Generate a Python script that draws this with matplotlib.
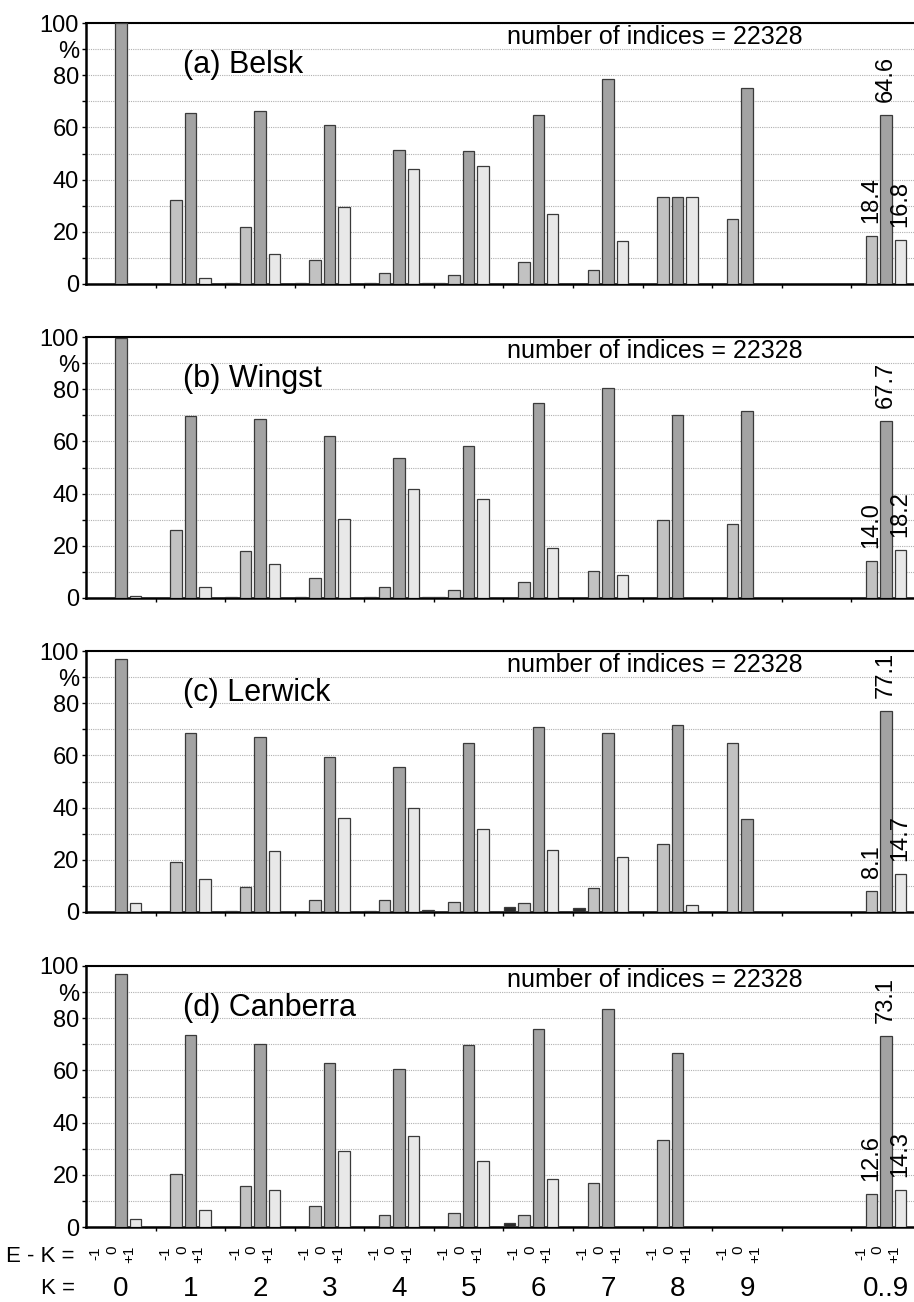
import numpy as np
import matplotlib
matplotlib.use("Agg")
import matplotlib.pyplot as plt
from matplotlib import font_manager as fm
from matplotlib import transforms

names = {f.name for f in fm.fontManager.ttflist}
MAIN = "Liberation Sans" if "Liberation Sans" in names else "DejaVu Sans"
NARROW = "Liberation Sans Narrow" if "Liberation Sans Narrow" in names else MAIN
plt.rcParams["font.family"] = [MAIN, "DejaVu Sans"]

# ---------------- data ----------------
k_labels = ["0", "1", "2", "3", "4", "5", "6", "7", "8", "9", "0..9"]
ek_labels = ["-1", "0", "+1"]
stations = ["(a) Belsk", "(b) Wingst", "(c) Lerwick", "(d) Canberra"]
n_indices = 22328

belsk_m2 = [0, 0, 0.2, 0.2, 0.2, 0.4, 0, 0, 0, 0, 0]
belsk_m1 = [0, 32.0, 21.9, 9.2, 4.1, 3.5, 8.6, 5.4, 33.3, 25.0, 18.4]
belsk_z = [100, 65.6, 66.3, 60.9, 51.3, 50.9, 64.7, 78.6, 33.3, 75.1, 64.6]
belsk_p1 = [0, 2.2, 11.5, 29.6, 44.0, 45.3, 26.7, 16.3, 33.3, 0, 16.8]
belsk_p2 = [0, 0, 0, 0, 0.4, 0, 0, 0, 0, 0, 0]

wingst_m2 = [0, 0, 0.2, 0.2, 0.2, 0.2, 0, 0, 0, 0, 0]
wingst_m1 = [0, 26.0, 17.9, 7.5, 4.1, 3.1, 6.2, 10.5, 29.9, 28.5, 14.0]
wingst_z = [99.6, 69.9, 68.6, 62.2, 53.7, 58.4, 74.7, 80.6, 70.2, 71.7, 67.7]
wingst_p1 = [0.6, 4.2, 13.2, 30.1, 41.8, 38.0, 19.0, 8.7, 0, 0, 18.2]
wingst_p2 = [0, 0, 0, 0, 0.2, 0, 0, 0, 0, 0, 0]

lerwick_m2 = [0, 0, 0.3, 0, 0.3, 0, 2.0, 1.4, 0, 0, 0]
lerwick_m1 = [0, 19.3, 9.6, 4.7, 4.5, 3.8, 3.5, 9.2, 25.9, 64.8, 8.1]
lerwick_z = [96.8, 68.5, 67.2, 59.5, 55.6, 64.7, 70.9, 68.6, 71.6, 35.5, 77.1]
lerwick_p1 = [3.3, 12.5, 23.3, 35.9, 39.7, 31.8, 23.9, 21.1, 2.8, 0, 14.7]
lerwick_p2 = [0, 0, 0, 0, 0.6, 0, 0, 0, 0, 0, 0]

canberra_m2 = [0, 0, 0, 0, 0, 0, 1.7, 0, 0, 0, 0]
canberra_m1 = [0, 20.2, 15.8, 8.2, 4.6, 5.5, 4.7, 16.9, 33.5, 0, 12.6]
canberra_z = [97.1, 73.6, 70.0, 63.0, 60.7, 69.6, 75.7, 83.4, 66.8, 0, 73.1]
canberra_p1 = [3.1, 6.6, 14.3, 29.1, 35.0, 25.3, 18.3, 0, 0, 0, 14.3]
canberra_p2 = [0, 0, 0, 0, 0, 0, 0, 0, 0, 0, 0]

panels = [
    (belsk_m2, belsk_m1, belsk_z, belsk_p1, belsk_p2),
    (wingst_m2, wingst_m1, wingst_z, wingst_p1, wingst_p2),
    (lerwick_m2, lerwick_m1, lerwick_z, lerwick_p1, lerwick_p2),
    (canberra_m2, canberra_m1, canberra_z, canberra_p1, canberra_p2),
]

# ---------------- layout ----------------
W, H = 914, 1302
fig = plt.figure(figsize=(W / 100, H / 100), dpi=100)
group_pos = np.array([0, 1, 2, 3, 4, 5, 6, 7, 8, 9, 11], dtype=float)
offsets = [-0.416, -0.208, 0.0, 0.208, 0.416]
colors = ["#2b2b2b", "#c2c2c2", "#a3a3a3", "#e8e8e8", "#2b2b2b"]
bw = 0.165
tops = [23, 337, 651, 966]
ph = 261
left = 86

axes = []
for i, (top, series) in enumerate(zip(tops, panels)):
    ax = fig.add_axes([left / W, 1 - (top + ph) / H, 1 - left / W, ph / H])
    axes.append(ax)
    for off, col, vals in zip(offsets, colors, series):
        ax.bar(group_pos + off, vals, width=bw, color=col,
               edgecolor="#3a3a3a", linewidth=0.9, zorder=3)
    ax.set_xlim(-0.5, 11.4)
    ax.set_ylim(0, 100)
    ax.set_axisbelow(True)
    ax.yaxis.grid(True, linestyle=(0, (1, 1)), color="#b0b0b0", linewidth=0.8)
    yt = list(range(0, 101, 10))
    ylab = [("%" if v == 90 else (str(v) if v % 20 == 0 else "")) for v in yt]
    ax.set_yticks(yt)
    ax.set_yticklabels(ylab, fontsize=17)
    ax.set_xticks(np.arange(0.5, 11, 1.0))
    ax.set_xticklabels([])
    ax.tick_params(axis="x", direction="out", length=3, width=1)
    ax.tick_params(axis="y", direction="out", length=3, width=1, pad=2)
    for s in ["left", "bottom"]:
        ax.spines[s].set_linewidth(1.8)
    ax.spines["top"].set_linewidth(1.5)
    ax.spines["right"].set_visible(False)
    ax.text(0.89, 84, stations[i], fontsize=22, ha="left", va="center", zorder=5)
    ax.text(5.55, 94.5, f"number of indices = {n_indices}", fontsize=18,
            ha="left", va="center", zorder=5)
    # value labels for the 0..9 group
    for off, vals in zip(offsets[1:4], series[1:4]):
        v = vals[-1]
        ax.text(group_pos[-1] + off, v + 5.0, f"{v:.1f}", rotation=90,
                fontsize=17, ha="center", va="bottom", zorder=5, clip_on=False)

# bottom labels
ax = axes[-1]
tr = transforms.blended_transform_factory(ax.transData, fig.transFigure)
y_ek = 1 - 1246 / H
y_k = 1 - 1289 / H
fig.text(75 / W, 1 - 1256 / H, "E - K =", fontsize=16, family=NARROW,
         ha="right", va="center")
fig.text(75 / W, y_k, "K =", fontsize=16, family=NARROW, ha="right", va="center")
for g, kl in zip(group_pos, k_labels):
    for j, el in enumerate(ek_labels):
        ax.text(g - 0.12 + (j - 1) * 0.24, y_ek, el, transform=tr, rotation=90,
                fontsize=11, family=NARROW, ha="center", va="top")
    ax.text(g, y_k, kl, transform=tr, fontsize=20, family=NARROW,
            ha="center", va="center")

fig.savefig("out.png", dpi=100)
